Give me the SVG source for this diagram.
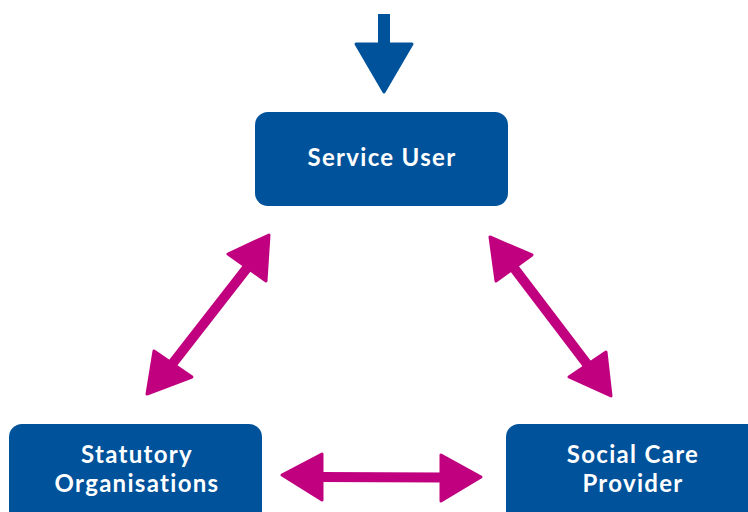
<svg xmlns="http://www.w3.org/2000/svg" width="748" height="512" viewBox="0 0 748 512">
<style>
.box{fill:#00529b}
.lbl{fill:#fff;font-family:Lato,"Open Sans",sans-serif;font-weight:bold;font-size:24px;text-anchor:middle;letter-spacing:1.3px}
.head{fill:#c0007f;stroke:#c0007f;stroke-width:3;stroke-linejoin:round}
.shaft{stroke:#c0007f;stroke-width:10;fill:none}
.bhead{fill:#00529b;stroke:#00529b;stroke-width:3;stroke-linejoin:round}
</style>
<g id="connectors">
  <g id="input-arrow">
    <rect x="378" y="14" width="12" height="32" fill="#00529b"/>
    <polygon class="bhead" points="356,44 412,44 384,92"/>
  </g>
  <g id="user-statutory">
    <line class="shaft" x1="173" y1="363" x2="247" y2="268"/>
    <polygon class="head" points="269,235 228,254 266,281"/>
    <polygon class="head" points="147,394 154,351 192,377"/>
  </g>
  <g id="user-provider">
    <line class="shaft" x1="514" y1="268" x2="587" y2="364"/>
    <polygon class="head" points="490,237 532,255 496,281"/>
    <polygon class="head" points="611,396 569,377 606,352"/>
  </g>
  <g id="statutory-provider">
    <line class="shaft" x1="320" y1="477" x2="442" y2="477.5"/>
    <polygon class="head" points="282,475 322,454 322,500"/>
    <polygon class="head" points="481,477 441,455 441,501"/>
  </g>
</g>
<g id="service-user">
  <rect class="box" x="255" y="112" width="253" height="94" rx="13"/>
  <text class="lbl" x="382" y="166">Service User</text>
</g>
<g id="statutory-organisations">
  <rect class="box" x="9" y="424" width="253" height="110" rx="13"/>
  <text class="lbl" x="137" y="463"><tspan x="137" y="463">Statutory</tspan><tspan x="137" y="492">Organisations</tspan></text>
</g>
<g id="social-care-provider">
  <rect class="box" x="506" y="424" width="260" height="110" rx="13"/>
  <text class="lbl" x="633" y="463"><tspan x="633" y="463">Social Care</tspan><tspan x="633" y="492">Provider</tspan></text>
</g>
</svg>
